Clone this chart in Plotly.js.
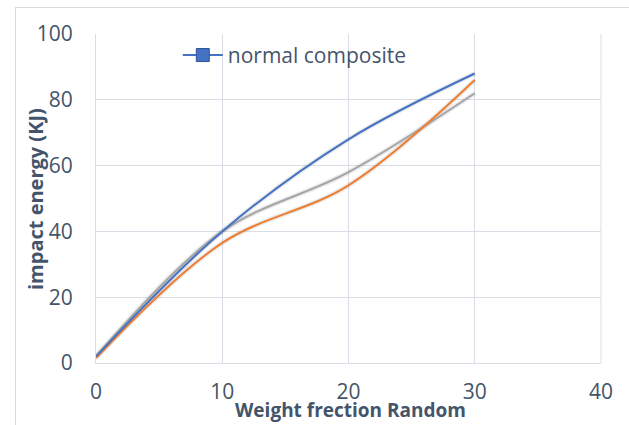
<!DOCTYPE html>
<html><head><meta charset="utf-8">
<script src="https://cdn.plot.ly/plotly-3.0.1.min.js"></script>
<style>
html,body{margin:0;padding:0;background:#fff;}
#wrap{position:relative;width:629px;height:425px;overflow:hidden;}
#frame{position:absolute;left:15px;top:7px;width:640px;height:440px;border:1px solid #D9D9D9;box-sizing:border-box;}
#chart{position:absolute;left:0;top:0;width:629px;height:425px;}
</style></head>
<body><div id="wrap"><div id="frame"></div><div id="chart"></div></div>
<script>
const weightFraction = [0, 10, 20, 30];
const normalComposite = [2, 40, 68, 88];
const seriesOrange = [1.5, 36.5, 54, 86];
const seriesGray = [2, 40, 58, 82];
const xTicks = [0, 10, 20, 30, 40];
const yTicks = [0, 20, 40, 60, 80, 100];
const xTitle = 'Weight frection Random';
const yTitle = 'impact energy (KJ)';
const legendName = 'normal composite';

const txt = '#44546A';
const font = 'Open Sans, Noto Sans, sans-serif';
function shadow(y){return {x:weightFraction,y:y,mode:'lines',line:{shape:'spline',smoothing:1,color:'rgba(0,0,0,0.08)',width:5},hoverinfo:'skip',showlegend:false};}
const traces = [
  shadow(seriesGray), shadow(seriesOrange), shadow(normalComposite),
  {x:weightFraction,y:seriesGray,mode:'lines',line:{shape:'spline',smoothing:1,color:'#A5A5A5',width:2},showlegend:false},
  {x:weightFraction,y:seriesOrange,mode:'lines',line:{shape:'spline',smoothing:1,color:'#ED7D31',width:2},showlegend:false},
  {x:weightFraction,y:normalComposite,mode:'lines',name:legendName,line:{shape:'spline',smoothing:1,color:'#4472C4',width:2},showlegend:false},
  {x:[null],y:[null],mode:'lines+markers',name:legendName,line:{color:'#4472C4',width:2},marker:{symbol:'square',size:13,color:'#4472C4',line:{color:'#2F5597',width:1}},showlegend:true}
];

const layout = {
  width:629,height:425,
  margin:{l:96,r:28,t:34,b:62},
  paper_bgcolor:'rgba(0,0,0,0)',plot_bgcolor:'#fff',
  font:{family:font,color:txt,size:21},
  showlegend:true,
  legend:{x:0.162,y:0.935,xanchor:'left',yanchor:'middle',bgcolor:'rgba(0,0,0,0)',font:{size:21,color:txt},itemwidth:40},
  xaxis:{range:[0,40],tickvals:xTicks,ticktext:xTicks.map(String),showgrid:true,gridcolor:'#D9DEE6',gridwidth:1,
    zeroline:false,showline:true,linecolor:'#D9DEE6',ticks:'outside',ticklen:10,tickcolor:'rgba(0,0,0,0)',
    tickfont:{size:21,color:txt},fixedrange:true},
  yaxis:{range:[0,100],tickvals:yTicks,ticktext:yTicks.map(String),showgrid:true,gridcolor:'#D9DEE6',gridwidth:1,
    zeroline:false,showline:true,linecolor:'#D9DEE6',ticks:'outside',ticklen:18,tickcolor:'rgba(0,0,0,0)',
    tickfont:{size:21,color:txt},fixedrange:true},
  annotations:[
    {text:'<b>'+xTitle+'</b>',xref:'paper',yref:'paper',x:(350-96)/505,y:-(410-363)/329,xanchor:'center',yanchor:'middle',showarrow:false,font:{size:19,color:txt,family:font}},
    {text:'<b>'+yTitle+'</b>',xref:'paper',yref:'paper',x:(35-96)/505,y:(363-199)/329,xanchor:'center',yanchor:'middle',textangle:-90,showarrow:false,font:{size:20,color:txt,family:font}}
  ],
  shapes:[{type:'line',xref:'paper',yref:'paper',x0:1,x1:1,y0:0,y1:1,line:{color:'#D9DEE6',width:1}}]
};
Plotly.newPlot('chart',traces,layout,{staticPlot:true,displayModeBar:false});
</script></body></html>
